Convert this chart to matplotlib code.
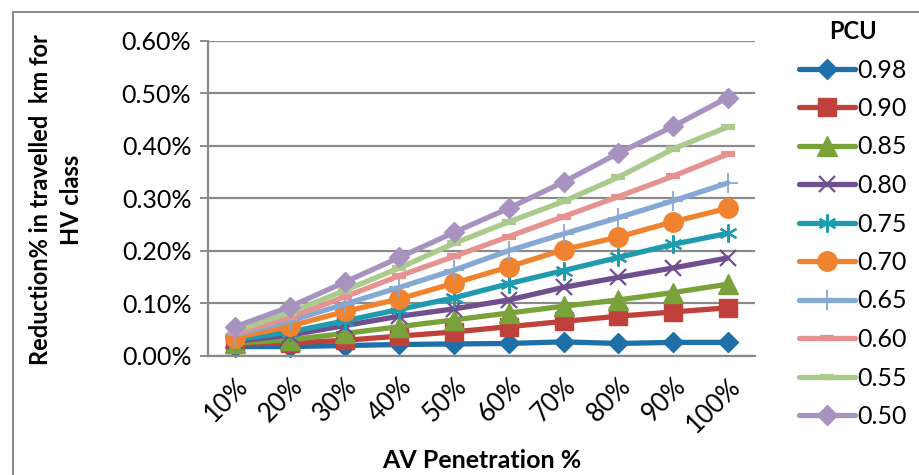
import matplotlib
matplotlib.use("Agg")
import matplotlib.pyplot as plt
from matplotlib.lines import Line2D
from matplotlib.ticker import FuncFormatter

plt.rcParams['font.family'] = ['Lato', 'DejaVu Sans']

# AV penetration steps and reduction (%) in travelled km for the HV class
penetration = ['10%', '20%', '30%', '40%', '50%', '60%', '70%', '80%', '90%', '100%']
pcu_labels = ['0.98', '0.90', '0.85', '0.80', '0.75', '0.70', '0.65', '0.60', '0.55', '0.50']

pcu_098 = [0.017, 0.017, 0.019, 0.021, 0.022, 0.023, 0.026, 0.023, 0.025, 0.025]
pcu_090 = [0.022, 0.024, 0.029, 0.037, 0.045, 0.055, 0.065, 0.075, 0.083, 0.091]
pcu_085 = [0.024, 0.030, 0.042, 0.055, 0.068, 0.081, 0.094, 0.106, 0.120, 0.136]
pcu_080 = [0.027, 0.039, 0.057, 0.075, 0.089, 0.106, 0.130, 0.149, 0.167, 0.186]
pcu_075 = [0.030, 0.045, 0.066, 0.088, 0.110, 0.137, 0.162, 0.187, 0.212, 0.233]
pcu_070 = [0.034, 0.056, 0.084, 0.108, 0.138, 0.169, 0.202, 0.226, 0.255, 0.281]
pcu_065 = [0.040, 0.066, 0.098, 0.130, 0.163, 0.200, 0.232, 0.263, 0.295, 0.329]
pcu_060 = [0.042, 0.073, 0.112, 0.152, 0.189, 0.227, 0.265, 0.303, 0.342, 0.384]
pcu_055 = [0.047, 0.082, 0.124, 0.167, 0.214, 0.255, 0.294, 0.340, 0.394, 0.436]
pcu_050 = [0.055, 0.093, 0.140, 0.187, 0.235, 0.281, 0.331, 0.386, 0.437, 0.492]

series = [pcu_098, pcu_090, pcu_085, pcu_080, pcu_075,
          pcu_070, pcu_065, pcu_060, pcu_055, pcu_050]

colors = ['#1f6fa8', '#c0403b', '#7aa23b', '#6f4f8e', '#1f9bb0',
          '#f0832f', '#85a8d4', '#e59290', '#aacb8c', '#a893c0']
# (marker, size, edge width)
styles = [('D', 10, 1), ('s', 13.5, 1), ('^', 14, 1), ('x', 12, 1.6),
          ((6, 2, 0), 13, 1.6), ('o', 14, 1), ('+', 15, 1.3),
          ('_', 10, 4.5), ('_', 10, 4.5), ('D', 10, 1)]

fig = plt.figure(figsize=(9.2, 4.75), dpi=100)
ax = fig.add_axes([208 / 920, 1 - 355.5 / 475, (755 - 208) / 920, (355.5 - 41) / 475])

x = list(range(len(penetration)))
for vals, lab, c, (m, ms, mew) in zip(series, pcu_labels, colors, styles):
    ax.plot(x, vals, color=c, lw=3.8, marker=m, markersize=ms,
            markeredgewidth=mew, markerfacecolor=c, markeredgecolor=c,
            solid_capstyle='round', label=lab, clip_on=False)

ax.set_xlim(-0.5, len(penetration) - 0.5)
ax.set_ylim(0, 0.6)
ax.set_yticks([0, 0.1, 0.2, 0.3, 0.4, 0.5, 0.6])
ax.yaxis.set_major_formatter(FuncFormatter(lambda v, p: '{:.2f}%'.format(v)))
ax.set_xticks(x)
ax.set_xticklabels(penetration, rotation=45, ha='right', va='top',
                   rotation_mode='anchor')

ax.grid(axis='y', color='#8a8a8a', lw=1.6)
ax.set_axisbelow(True)
for side in ['top', 'right']:
    ax.spines[side].set_visible(False)
for side in ['left', 'bottom']:
    ax.spines[side].set_color('#8a8a8a')
    ax.spines[side].set_linewidth(1.6)
ax.tick_params(axis='y', length=6, width=1.4, color='#8a8a8a', labelsize=18, pad=6)
ax.tick_params(axis='x', length=0, labelsize=18.5, pad=13)

ax.set_xlabel('AV Penetration %', fontsize=18, fontweight='bold', labelpad=8)
fig.text(56 / 920, 1 - 200 / 475, 'Reduction% in travelled  km for\nHV class',
         rotation=90, ha='center', va='center', multialignment='center',
         fontsize=17, fontweight='bold', linespacing=1.45)

leg = ax.legend(title='PCU', loc='upper left',
                bbox_to_anchor=(789 / 920, 1 - 10 / 475),
                bbox_transform=fig.transFigure, frameon=False,
                fontsize=18, title_fontproperties={'weight': 'bold', 'size': 17},
                handlelength=2.25, handletextpad=0.1, labelspacing=0.62,
                borderaxespad=0)

# outer chart border
fig.add_artist(Line2D([13.5 / 920, 13.5 / 920], [0, 1 - 11.5 / 475],
                      transform=fig.transFigure, color='#8c8c8c', lw=1.5))
fig.add_artist(Line2D([13.5 / 920, 1], [1 - 11.5 / 475, 1 - 11.5 / 475],
                      transform=fig.transFigure, color='#8c8c8c', lw=1.5))

fig.savefig('out.png', dpi=100)
